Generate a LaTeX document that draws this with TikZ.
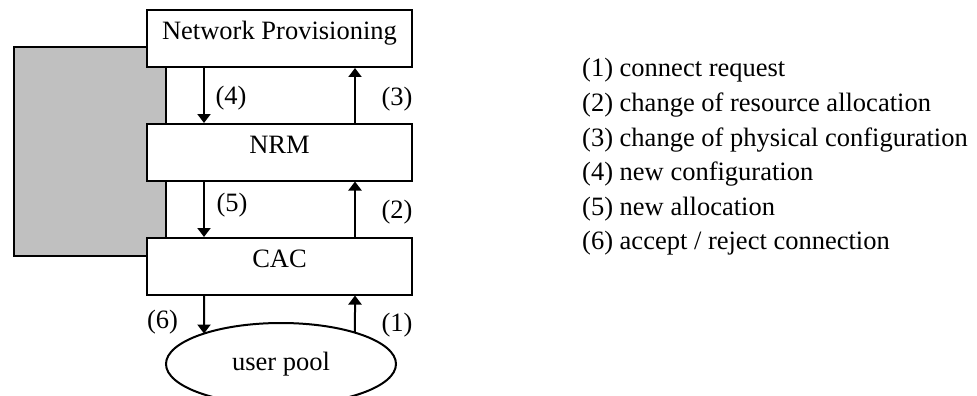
\documentclass[tikz,border=0pt]{standalone}
\usepackage{fontspec}
\setmainfont{Liberation Serif}
\usetikzlibrary{arrows.meta,shapes.geometric,intersections}

\tikzset{
  px/.style={x=1pt,y=-1pt},
  txt/.style={font=\fontsize{26.5}{30}\selectfont},
  block/.style={draw, line width=2pt, fill=white, rectangle, inner sep=0pt,
    minimum width=265pt, text height=29pt, text depth=27.5pt, txt},
  pool/.style={draw, line width=2pt, fill=white, ellipse, inner sep=0pt,
    minimum width=230pt, minimum height=82pt, txt},
  arr/.style={line width=2pt, -{Triangle[length=9pt,width=13pt]}},
  lbl/.style={txt, inner sep=0pt},
  legend/.style={txt, inner sep=0pt, anchor=base west},
}

\begin{document}
\begin{tikzpicture}[px]
  \useasboundingbox (0,0) rectangle (977,396);

  % shaded block behind the stack
  \draw[line width=2pt, fill={rgb,255:red,192;green,192;blue,192}] (14,47) rectangle (166,256);

  % stacked function blocks
  \node[block, anchor=north] (np)  at (279.5,9.5) {Network Provisioning};
  \node[block, anchor=north] (nrm) at (279.5,123) {NRM};
  \node[block, anchor=north] (cac) at (279.5,237) {CAC};
  \node[pool, name path=poolpath] (pool) at (281,364) {user pool};

  % columns of the downward and upward arrows
  \coordinate (dn) at (204,0);
  \coordinate (up) at (355,0);

  % where the two columns meet the upper half of the ellipse
  \path[name path=dncol] (dn) -- (204,364);
  \path[name path=upcol] (up) -- (355,364);
  \path[name intersections={of=poolpath and dncol, by={p6}}];
  \path[name intersections={of=poolpath and upcol, by={p1}}];

  \draw[arr] (np.south -| dn) -- (nrm.north -| dn);
  \draw[arr] (nrm.north -| up) -- (np.south -| up);
  \draw[arr] (nrm.south -| dn) -- (cac.north -| dn);
  \draw[arr] (cac.north -| up) -- (nrm.south -| up);
  \draw[arr] (cac.south -| dn) -- (p6);
  \draw[arr] (p1) -- (cac.south -| up);

  % arrow numbers
  \node[lbl] (l4) at (231,98.5) {(4)};
  \node[lbl] (l3) at (397,99)   {(3)};
  \node[lbl] (l5) at (232,205)  {(5)};
  \node[lbl] (l2) at (397,212.5){(2)};
  \node[lbl] (l6) at (162.5,322){(6)};
  \node[lbl] (l1) at (397,325)  {(1)};

  % legend
  \node[legend] (k1) at (582,77)    {(1) connect request};
  \node[legend] (k2) at (582,111.5) {(2) change of resource allocation};
  \node[legend] (k3) at (582,146)   {(3) change of physical configuration};
  \node[legend] (k4) at (582,180.5) {(4) new configuration};
  \node[legend] (k5) at (582,215)   {(5) new allocation};
  \node[legend] (k6) at (582,249.5) {(6) accept / reject connection};
\end{tikzpicture}
\end{document}
